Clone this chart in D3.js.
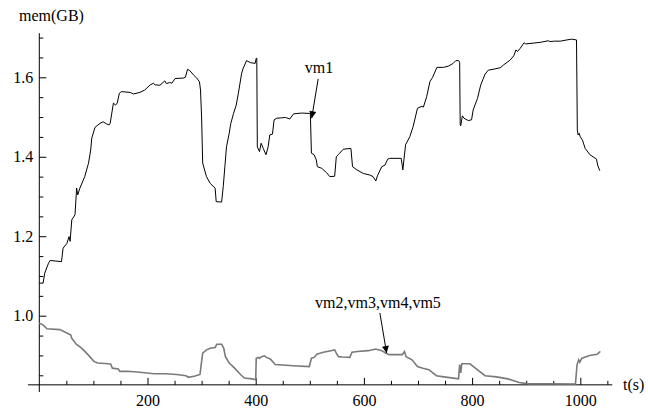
<!DOCTYPE html>
<html lang="en">
<head>
  <meta charset="utf-8">
  <title>mem vs t</title>
  <script src="https://d3js.org/d3.v7.min.js"></script>
  <style>
    body { margin: 0; background: #fff; }
  </style>
</head>
<body>
  <div id="chart"></div>
  <script>
    // vm1 memory trace (t in s, mem in GB)
    var vm1T = [0, 7, 10, 17, 20, 41, 44, 51, 55, 57, 60, 66, 69, 71, 75, 84, 91, 95, 97, 103,
      112, 118, 124, 129, 131, 137, 141, 144, 148, 152, 168, 174, 186, 195, 205, 211, 214, 223, 232, 235,
      241, 245, 251, 266, 270, 274, 278, 285, 291, 296, 298, 300, 302, 309, 316, 325, 327, 337, 340, 343,
      346, 351, 354, 359, 364, 368, 374, 377, 383, 390, 399, 401, 402, 403, 407, 410, 414, 419, 423, 426,
      431, 434, 439, 448, 455, 463, 470, 485, 500, 501, 503, 508, 512, 514, 522, 531, 537, 546, 549, 553,
      562, 576, 579, 587, 599, 611, 617, 622, 625, 633, 639, 644, 648, 669, 672, 677, 685, 691, 699, 707,
      710, 716, 722, 727, 735, 747, 756, 765, 770, 775, 777, 778, 779, 782, 785, 793, 799, 802, 810, 816,
      824, 830, 842, 852, 858, 870, 877, 881, 884, 889, 896, 899, 913, 926, 941, 944, 952, 963, 975, 984,
      993, 994.5, 996, 998, 1000, 1004, 1009, 1018, 1030, 1032, 1036];
    var vm1Mem = [1.082, 1.082, 1.107, 1.132, 1.139, 1.136, 1.170, 1.182, 1.199, 1.187, 1.241, 1.254, 1.321, 1.304, 1.321, 1.350, 1.384, 1.417, 1.447, 1.474,
      1.484, 1.488, 1.483, 1.480, 1.484, 1.535, 1.530, 1.535, 1.560, 1.564, 1.562, 1.558, 1.562, 1.568, 1.581, 1.585, 1.581, 1.580, 1.591, 1.584,
      1.587, 1.585, 1.597, 1.598, 1.600, 1.620, 1.617, 1.606, 1.598, 1.589, 1.568, 1.500, 1.384, 1.350, 1.333, 1.321, 1.287, 1.286, 1.325, 1.375,
      1.425, 1.459, 1.484, 1.509, 1.530, 1.560, 1.610, 1.623, 1.642, 1.637, 1.635, 1.648, 1.648, 1.425, 1.413, 1.434, 1.421, 1.405, 1.425, 1.455,
      1.457, 1.493, 1.497, 1.498, 1.499, 1.495, 1.508, 1.510, 1.509, 1.509, 1.409, 1.405, 1.392, 1.375, 1.371, 1.360, 1.350, 1.351, 1.400, 1.406,
      1.419, 1.421, 1.375, 1.367, 1.358, 1.354, 1.350, 1.339, 1.352, 1.375, 1.379, 1.394, 1.396, 1.396, 1.367, 1.430, 1.451, 1.476, 1.522, 1.527,
      1.525, 1.551, 1.589, 1.600, 1.625, 1.625, 1.628, 1.635, 1.642, 1.642, 1.638, 1.480, 1.478, 1.503, 1.497, 1.491, 1.493, 1.518, 1.547, 1.581,
      1.608, 1.618, 1.621, 1.624, 1.631, 1.643, 1.654, 1.669, 1.665, 1.673, 1.687, 1.684, 1.686, 1.688, 1.692, 1.690, 1.691, 1.691, 1.694, 1.696,
      1.694, 1.467, 1.455, 1.459, 1.450, 1.442, 1.421, 1.405, 1.394, 1.379, 1.365];

    // vm2..vm5 memory trace
    var vm2T = [0, 7, 14, 38, 52, 58, 60, 69, 72, 80, 90, 101, 108, 128, 132, 135, 146, 149, 163, 191,
      212, 233, 254, 271, 276, 288, 297, 300, 302, 309, 316, 325, 328, 337, 341, 344, 351, 361, 372, 379,
      393, 400, 401, 405, 407, 411, 416, 420, 427, 436, 469, 499, 503, 508, 513, 525, 539, 546, 549, 553,
      560, 574, 578, 588, 608, 622, 633, 640, 647, 671, 675, 678, 689, 699, 709, 720, 734, 748, 775, 777,
      779, 781, 796, 806, 824, 845, 866, 887, 901, 991, 994, 997, 999, 1003, 1017, 1031, 1037];
    var vm2Mem = [0.981, 0.977, 0.967, 0.965, 0.956, 0.952, 0.943, 0.927, 0.925, 0.916, 0.902, 0.885, 0.881, 0.879, 0.878, 0.868, 0.866, 0.860, 0.860, 0.857,
      0.854, 0.854, 0.852, 0.849, 0.845, 0.848, 0.852, 0.885, 0.906, 0.914, 0.918, 0.920, 0.928, 0.928, 0.918, 0.897, 0.881, 0.868, 0.852, 0.843,
      0.841, 0.839, 0.893, 0.895, 0.893, 0.897, 0.899, 0.895, 0.891, 0.877, 0.874, 0.872, 0.893, 0.895, 0.903, 0.908, 0.912, 0.914, 0.906, 0.897,
      0.896, 0.895, 0.908, 0.910, 0.912, 0.916, 0.912, 0.906, 0.902, 0.902, 0.910, 0.897, 0.889, 0.872, 0.868, 0.864, 0.849, 0.846, 0.841, 0.877,
      0.856, 0.879, 0.879, 0.868, 0.849, 0.846, 0.841, 0.832, 0.829, 0.828, 0.877, 0.889, 0.883, 0.893, 0.900, 0.903, 0.910];

    var xMajor = [200, 400, 600, 800, 1000];
    var yMajor = [1.0, 1.2, 1.4, 1.6];

    var w = 648, h = 415;

    var x = d3.scaleLinear().domain([0, 1000]).range([39.3, 580.3]);
    var y = d3.scaleLinear().domain([1.0, 1.6]).range([315.7, 77.3]);

    var xAxisAt = 0.826;            // where the t axis crosses
    var xExtent = [-21, 1059];
    var yExtent = [0.808, 1.711];

    var svg = d3.select("#chart").append("svg")
      .attr("width", w)
      .attr("height", h);

    // arrow head
    svg.append("defs").append("marker")
      .attr("id", "head")
      .attr("viewBox", "0 0 10 10")
      .attr("refX", 10).attr("refY", 5)
      .attr("markerWidth", 11).attr("markerHeight", 7)
      .attr("markerUnits", "userSpaceOnUse")
      .attr("orient", "auto")
      .append("path")
      .attr("d", "M0,0L10,5L0,10Z")
      .attr("fill", "#000");

    // minor ticks every 50 / 0.05
    var xMinor = d3.range(50, 1051, 50).filter(function (v) { return xMajor.indexOf(v) < 0; });
    var yMinor = d3.range(0.85, 1.701, 0.05).filter(function (v) {
      return !yMajor.some(function (m) { return Math.abs(m - v) < 1e-6; });
    });

    var gx = svg.append("g").attr("transform", "translate(0," + y(xAxisAt) + ")");
    gx.call(d3.axisBottom(x).tickValues(xMinor).tickSizeInner(-4).tickSizeOuter(0).tickFormat(""));
    gx.append("g").call(d3.axisBottom(x).tickValues(xMajor).tickSizeInner(-7).tickSizeOuter(0)
      .tickPadding(10).tickFormat(d3.format("d")));
    gx.selectAll(".domain").remove();
    gx.append("line")
      .attr("x1", x(xExtent[0])).attr("x2", x(xExtent[1]))
      .attr("stroke", "#000");

    var gy = svg.append("g").attr("transform", "translate(" + x(0) + ",0)");
    gy.call(d3.axisLeft(y).tickValues(yMinor).tickSizeInner(-4).tickSizeOuter(0).tickFormat(""));
    gy.append("g").call(d3.axisLeft(y).tickValues(yMajor).tickSizeInner(-7).tickSizeOuter(0)
      .tickPadding(6).tickFormat(d3.format(".1f")));
    gy.selectAll(".domain").remove();
    gy.append("line")
      .attr("y1", y(yExtent[0])).attr("y2", y(yExtent[1]))
      .attr("stroke", "#000");

    // axis labels
    svg.append("text").attr("x", 19).attr("y", 21).text("mem(GB)");
    svg.append("text").attr("x", 623).attr("y", y(xAxisAt)).attr("dy", "0.35em").text("t(s)");

    var line = d3.line()
      .x(function (d) { return x(d[0]); })
      .y(function (d) { return y(d[1]); });

    svg.append("path")
      .datum(d3.zip(vm2T, vm2Mem))
      .attr("fill", "none")
      .attr("stroke", "#7a7a7a")
      .attr("stroke-width", 1.6)
      .attr("d", line);

    svg.append("path")
      .datum(d3.zip(vm1T, vm1Mem))
      .attr("fill", "none")
      .attr("stroke", "#000")
      .attr("stroke-width", 1)
      .attr("d", line);

    // annotations: label position, arrow tail, arrow tip (data units)
    var notes = [
      { text: "vm1", at: [517, 1.611], from: [515.5, 1.596], to: [503.5, 1.497] },
      { text: "vm2,vm3,vm4,vm5", at: [626, 1.019], from: [629.5, 1.007], to: [642, 0.906] }
    ];

    notes.forEach(function (n) {
      svg.append("text")
        .attr("x", x(n.at[0])).attr("y", y(n.at[1]))
        .attr("text-anchor", "middle")
        .text(n.text);
      svg.append("line")
        .attr("x1", x(n.from[0])).attr("y1", y(n.from[1]))
        .attr("x2", x(n.to[0])).attr("y2", y(n.to[1]))
        .attr("stroke", "#000")
        .attr("stroke-width", 1)
        .attr("marker-end", "url(#head)");
    });

    // Times-like font everywhere, set inline so the axis defaults don't win
    svg.selectAll("text")
      .style("font-family", "Liberation Serif")
      .style("font-size", "16px")
      .style("fill", "#000");
  </script>
</body>
</html>
